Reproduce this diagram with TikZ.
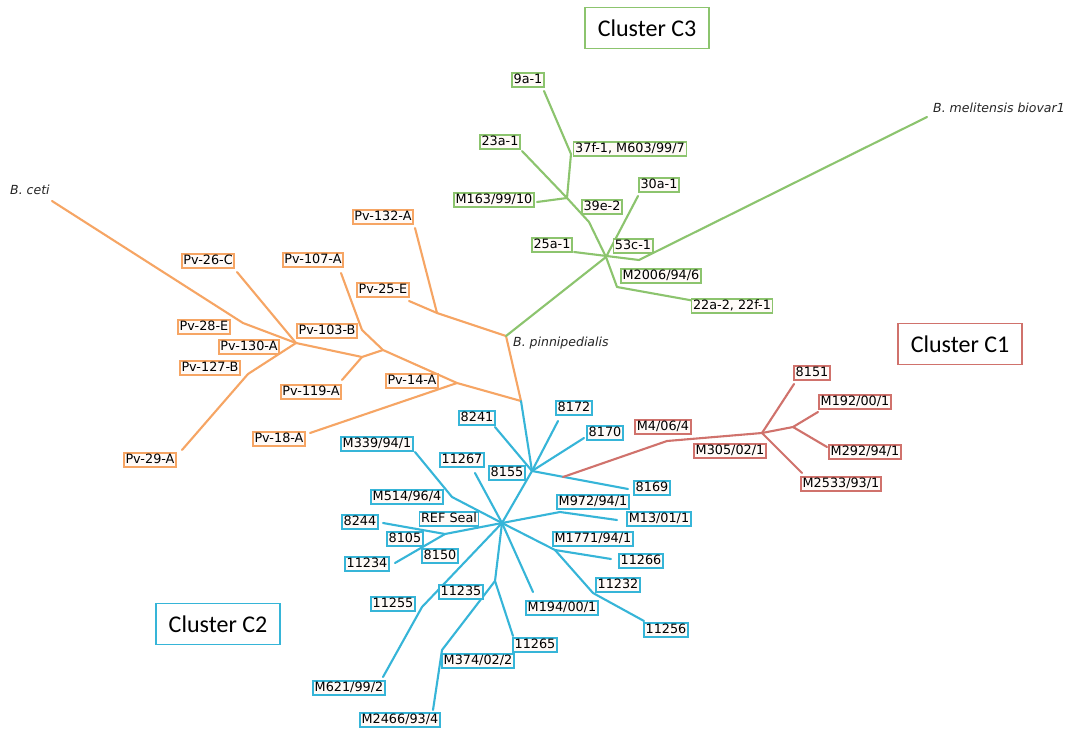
\documentclass[tikz,border=0pt]{standalone}
\usepackage{fontspec}
\setmainfont{DejaVu Sans}
\newfontfamily\clfont{Carlito}
\definecolor{org}{HTML}{F6A564}
\definecolor{grn}{HTML}{8CC46E}
\definecolor{blu}{HTML}{36B5D8}
\definecolor{rdd}{HTML}{D0726C}
\definecolor{boxfill}{HTML}{FFFAF7}
\begin{document}
\begin{tikzpicture}[x=1pt,y=-1pt,
  lbl/.style={draw, line width=1.7pt, fill=boxfill, inner xsep=1.6pt, inner ysep=0.8pt,
    font=\fontsize{12.8}{14}\selectfont, text height=9.4pt, text depth=2.6pt},
  ol/.style={lbl, draw=org}, gl/.style={lbl, draw=grn},
  bl/.style={lbl, draw=blu}, rl/.style={lbl, draw=rdd},
  br/.style={line width=2.1pt, line join=round, line cap=round},
  ob/.style={br, draw=org}, gb/.style={br, draw=grn},
  bb/.style={br, draw=blu}, rb/.style={br, draw=rdd},
  sp/.style={font=\fontsize{12.5}{14}\selectfont\itshape, text=black!85, inner sep=0pt},
  cl/.style={draw, line width=1.8pt, fill=white, minimum width=124pt, minimum height=41pt,
    inner sep=0pt, font=\clfont\fontsize{24}{26}\selectfont}
]
\useasboundingbox (0,0) rectangle (1065,730);
\fill[white] (0,0) rectangle (1065,730);

% ---------- coordinates ----------
% orange
\coordinate (eceti) at (52,201);
\coordinate (ob1) at (243,323);
\coordinate (J1) at (296,343);
\coordinate (e26c) at (237,272);
\coordinate (ob2) at (248,374);
\coordinate (e29a) at (182,450);
\coordinate (oj2) at (362,357);
\coordinate (oj3) at (383,350);
\coordinate (e119a) at (342,380);
\coordinate (e107a) at (341,273);
\coordinate (ob3) at (362,330);
\coordinate (oj4) at (457,383);
\coordinate (root) at (521,401);
\coordinate (e18a) at (310,433);
\coordinate (e132a) at (415,228);
\coordinate (e25e) at (409,301);
\coordinate (oj5) at (437,313);
\coordinate (pinn) at (506,336);
% green
\coordinate (gc) at (606,257);
\coordinate (e30a) at (638,196);
\coordinate (e25a) at (574,252);
\coordinate (gb) at (639,260);
\coordinate (emeli) at (927,117);
\coordinate (e23a) at (522,151);
\coordinate (gj1) at (567,198);
\coordinate (gb2) at (589,222);
\coordinate (gb3) at (617,287);
\coordinate (e22a) at (695,301);
\coordinate (e9a) at (544,91);
\coordinate (gb4) at (571,154);
\coordinate (e163) at (537,202);
% red
\coordinate (rs) at (563,477);
\coordinate (rb) at (667,441);
\coordinate (R1) at (762,433);
\coordinate (e8151) at (794,384);
\coordinate (R2) at (793,427);
\coordinate (e192) at (818,412);
\coordinate (e292) at (827,447);
\coordinate (e2533) at (802,473);
% blue
\coordinate (B1) at (532,471);
\coordinate (e8241) at (495,427);
\coordinate (e8172) at (558,421);
\coordinate (e8170) at (584,438);
\coordinate (e8169) at (628,489);
\coordinate (B0) at (502,523);
\coordinate (bb1) at (560,512);
\coordinate (e13) at (617,520);
\coordinate (bb2) at (555,550);
\coordinate (e11266) at (611,559);
\coordinate (bb3) at (593,593);
\coordinate (e11256) at (644,621);
\coordinate (e194) at (533,592);
\coordinate (B2) at (495,581);
\coordinate (e11265) at (513,636);
\coordinate (bb4) at (442,650);
\coordinate (e2466) at (433,710);
\coordinate (bb5) at (422,607);
\coordinate (e621) at (383,677);
\coordinate (bb6) at (452,497);
\coordinate (e339) at (415,452);
\coordinate (e11267) at (475,473);
\coordinate (B3) at (445,534);
\coordinate (e8244) at (383,523);
\coordinate (e11234) at (395,563);

% ---------- branches ----------
\draw[ob] (eceti) -- (ob1) -- (J1);
\draw[ob] (e26c) -- (J1);
\draw[ob] (J1) -- (ob2) -- (e29a);
\draw[ob] (J1) -- (oj2) -- (oj3);
\draw[ob] (e119a) -- (oj2);
\draw[ob] (e107a) -- (ob3) -- (oj3);
\draw[ob] (oj3) -- (oj4) -- (root);
\draw[ob] (e18a) -- (oj4);
\draw[ob] (e132a) -- (oj5);
\draw[ob] (e25e) -- (oj5);
\draw[ob] (oj5) -- (pinn) -- (root);

\draw[gb] (pinn) -- (gc) -- (e30a);
\draw[gb] (e25a) -- (gb) -- (emeli);
\draw[gb] (e23a) -- (gj1) -- (gb2) -- (gc) -- (gb3) -- (e22a);
\draw[gb] (e9a) -- (gb4) -- (gj1);
\draw[gb] (e163) -- (gj1);

\draw[bb] (root) -- (B1);
\draw[bb] (e8241) -- (B1);
\draw[bb] (e8172) -- (B1);
\draw[bb] (e8170) -- (B1);
\draw[bb] (B1) -- (e8169);
\draw[bb] (B1) -- (B0);
\draw[bb] (B0) -- (bb1) -- (e13);
\draw[bb] (B0) -- (bb2) -- (e11266);
\draw[bb] (bb2) -- (bb3) -- (e11256);
\draw[bb] (B0) -- (e194);
\draw[bb] (B0) -- (B2) -- (e11265);
\draw[bb] (B2) -- (bb4) -- (e2466);
\draw[bb] (B0) -- (bb5) -- (e621);
\draw[bb] (B0) -- (bb6) -- (e339);
\draw[bb] (B0) -- (e11267);
\draw[bb] (B0) -- (B3) -- (e8244);
\draw[bb] (B3) -- (e11234);

\draw[rb] (rs) -- (rb) -- (R1);
\draw[rb] (R1) -- (e8151);
\draw[rb] (R1) -- (R2) -- (e192);
\draw[rb] (R2) -- (e292);
\draw[rb] (R1) -- (e2533);

% ---------- species labels ----------
\node[sp, anchor=west] (nceti) at (10,190) {B. ceti};
\node[sp, anchor=west] (nmeli) at (933,108) {B. melitensis biovar1};
\node[sp, anchor=west] (npinn) at (513,343) {B. pinnipedialis};

% ---------- orange labels ----------
\node[ol] (n26c) at (208,261) {Pv-26-C};
\node[ol] (n28e) at (204,327) {Pv-28-E};
\node[ol] (n130a) at (249,347) {Pv-130-A};
\node[ol] (n127b) at (210,368) {Pv-127-B};
\node[ol] (n29a) at (150,460) {Pv-29-A};
\node[ol] (n107a) at (313,260) {Pv-107-A};
\node[ol] (n103b) at (327,331) {Pv-103-B};
\node[ol] (n119a) at (311,392) {Pv-119-A};
\node[ol] (n18a) at (279,439) {Pv-18-A};
\node[ol] (n14a) at (412,381) {Pv-14-A};
\node[ol] (n132a) at (383,217) {Pv-132-A};
\node[ol] (n25e) at (383,290) {Pv-25-E};

% ---------- green labels ----------
\node[gl] (n9a) at (528,80) {9a-1};
\node[gl] (n37f) at (630,149) {37f-1, M603/99/7};
\node[gl] (n23a) at (500,142) {23a-1};
\node[gl] (n163) at (494,200) {M163/99/10};
\node[gl] (n39e) at (602,207) {39e-2};
\node[gl] (n30a) at (659,185) {30a-1};
\node[gl] (n25a) at (552,245) {25a-1};
\node[gl] (n53c) at (633,246) {53c-1};
\node[gl] (n2006) at (661,276) {M2006/94/6};
\node[gl] (n22a) at (732,306) {22a-2, 22f-1};

% ---------- red labels ----------
\node[rl] (n8151) at (812,373) {8151};
\node[rl] (n192) at (855,402) {M192/00/1};
\node[rl] (n406) at (663,427) {M4/06/4};
\node[rl] (n305) at (730,451) {M305/02/1};
\node[rl] (n292) at (865,452) {M292/94/1};
\node[rl] (n2533) at (841,484) {M2533/93/1};

% ---------- blue labels ----------
\node[bl] (n8241) at (477,418) {8241};
\node[bl] (n8172) at (574,408) {8172};
\node[bl] (n8170) at (605,433) {8170};
\node[bl] (n8169) at (652,488) {8169};
\node[bl] (n8155) at (507,473) {8155};
\node[bl] (n972) at (593,502) {M972/94/1};
\node[bl] (n13) at (659,519) {M13/01/1};
\node[bl] (n1771) at (593,539) {M1771/94/1};
\node[bl] (n11266) at (641,561) {11266};
\node[bl] (n11232) at (618,585) {11232};
\node[bl] (n11256) at (666,630) {11256};
\node[bl] (n194) at (562,608) {M194/00/1};
\node[bl] (n11265) at (535,645) {11265};
\node[bl] (n374) at (478,661) {M374/02/2};
\node[bl] (n2466) at (400,720) {M2466/93/4};
\node[bl] (n11235) at (461,592) {11235};
\node[bl] (n11255) at (393,604) {11255};
\node[bl] (n621) at (349,688) {M621/99/2};
\node[bl] (n339) at (377,444) {M339/94/1};
\node[bl] (n514) at (407,497) {M514/96/4};
\node[bl] (n11267) at (462,460) {11267};
\node[bl] (nref) at (449,519) {REF Seal};
\node[bl] (n8244) at (360,522) {8244};
\node[bl] (n8105) at (405,539) {8105};
\node[bl] (n11234) at (367,564) {11234};
\node[bl] (n8150) at (440,556) {8150};

% ---------- cluster boxes ----------
\node[cl, draw=grn] (c3) at (647,28) {Cluster C3};
\node[cl, draw=rdd] (c1) at (960,344) {Cluster C1};
\node[cl, draw=blu] (c2) at (218,624) {Cluster C2};
\end{tikzpicture}
\end{document}
